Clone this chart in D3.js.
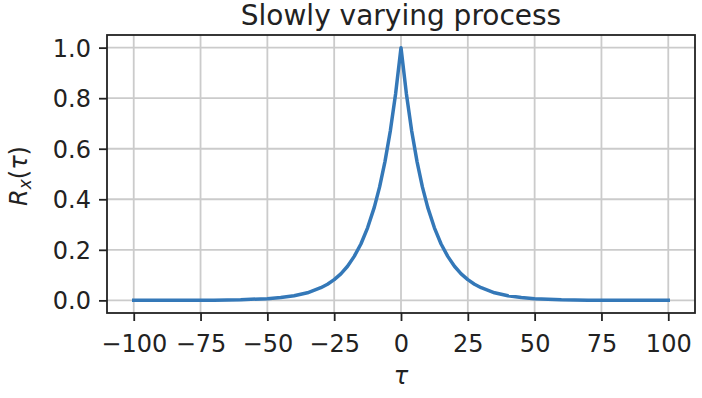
<!DOCTYPE html>
<html>
<head>
<meta charset="utf-8">
<script src="https://cdn.jsdelivr.net/npm/d3@7"></script>
<style>
  body { margin: 0; background: #fff; }
  svg { display: block; font-family: "DejaVu Sans", sans-serif; }
</style>
</head>
<body>
<svg id="mainSvg" width="702" height="398"></svg>
<script>
// values
var tau = [-100, -90, -80, -70, -60, -50, -45, -40, -35, -30, -27.5, -25, -22.5, -20, -17.5, -15, -12.5, -10, -8, -6, -4, -2, 0,
            2, 4, 6, 8, 10, 12.5, 15, 17.5, 20, 22.5, 25, 27.5, 30, 35, 40, 45, 50, 60, 70, 80, 90, 100];
var rx = [0.0000, 0.0001, 0.0003, 0.0009, 0.0025, 0.0067, 0.011, 0.018, 0.030, 0.050, 0.064, 0.082, 0.105, 0.135, 0.174, 0.223, 0.287, 0.368, 0.449, 0.549, 0.670, 0.819, 1.0,
          0.819, 0.670, 0.549, 0.449, 0.368, 0.287, 0.223, 0.174, 0.135, 0.105, 0.082, 0.064, 0.050, 0.030, 0.018, 0.011, 0.0067, 0.0025, 0.0009, 0.0003, 0.0001, 0.0000];
var xTicks = [-100, -75, -50, -25, 0, 25, 50, 75, 100];
var yTicks = [0.0, 0.2, 0.4, 0.6, 0.8, 1.0];
var title = "Slowly varying process";

var plotLeft = 107, plotRight = 695, plotTop = 35, plotBottom = 313;
var fontSize = 24;

var svg = d3.select("#mainSvg");
var x = d3.scaleLinear().domain([-110, 110]).range([plotLeft, plotRight]);
var y = d3.scaleLinear().domain([-0.05, 1.05]).range([plotBottom, plotTop]);

// grid
svg.append("g").selectAll("line").data(xTicks).enter().append("line")
  .attr("x1", function(d){ return x(d); }).attr("x2", function(d){ return x(d); })
  .attr("y1", plotTop).attr("y2", plotBottom)
  .style("stroke", "#cbcbcb").style("stroke-width", 1.8);
svg.append("g").selectAll("line").data(yTicks).enter().append("line")
  .attr("x1", plotLeft).attr("x2", plotRight)
  .attr("y1", function(d){ return y(d); }).attr("y2", function(d){ return y(d); })
  .style("stroke", "#cbcbcb").style("stroke-width", 1.8);

// curve
var pts = tau.map(function(t, i){ return [t, rx[i]]; });
var line = d3.line().x(function(d){ return x(d[0]); }).y(function(d){ return y(d[1]); });
svg.append("path").datum(pts)
  .attr("d", line)
  .style("fill", "none")
  .style("stroke", "#3478b8")
  .style("stroke-width", 3.5)
  .style("stroke-linejoin", "round")
  .style("stroke-linecap", "square");

// axes
var xAxis = d3.axisBottom(x).tickValues(xTicks).tickSize(8).tickPadding(8).tickFormat(d3.format("d"));
var yAxis = d3.axisLeft(y).tickValues(yTicks).tickSize(8).tickPadding(8).tickFormat(d3.format(".1f"));

var gx = svg.append("g").attr("transform", "translate(0," + plotBottom + ")").call(xAxis);
var gy = svg.append("g").attr("transform", "translate(" + plotLeft + ",0)").call(yAxis);
[gx, gy].forEach(function(g){
  g.select(".domain").remove();
  g.selectAll(".tick line").style("stroke", "#222").style("stroke-width", 1.8);
  g.selectAll(".tick text").style("font-family", "DejaVu Sans").style("font-size", fontSize + "px").style("fill", "#222");
});
gx.selectAll(".tick text").attr("dy", null).attr("y", 39);
gy.selectAll(".tick text").attr("dy", null).attr("y", 8.6).attr("x", -16);

// frame
svg.append("rect")
  .attr("x", plotLeft).attr("y", plotTop)
  .attr("width", plotRight - plotLeft).attr("height", plotBottom - plotTop)
  .style("fill", "none").style("stroke", "#222").style("stroke-width", 1.8);

// title
svg.append("text")
  .attr("x", (plotLeft + plotRight) / 2).attr("y", 25)
  .attr("text-anchor", "middle")
  .style("font-size", "28px").style("fill", "#222")
  .text(title);

// x label
svg.append("text")
  .attr("x", x(0)).attr("y", 384)
  .attr("text-anchor", "middle")
  .style("font-size", fontSize + "px").style("font-style", "italic").style("fill", "#222")
  .text("τ");

// y label
var yl = svg.append("text")
  .attr("transform", "translate(27,176) rotate(-90)")
  .attr("text-anchor", "middle")
  .style("font-size", fontSize + "px").style("fill", "#222");
yl.append("tspan").style("font-style", "italic").text("R");
yl.append("tspan").style("font-style", "italic").style("font-size", "17px").attr("dy", 4).text("x");
yl.append("tspan").attr("dy", -4).text("(");
yl.append("tspan").style("font-style", "italic").text("τ");
yl.append("tspan").text(")");
</script>
</body>
</html>
